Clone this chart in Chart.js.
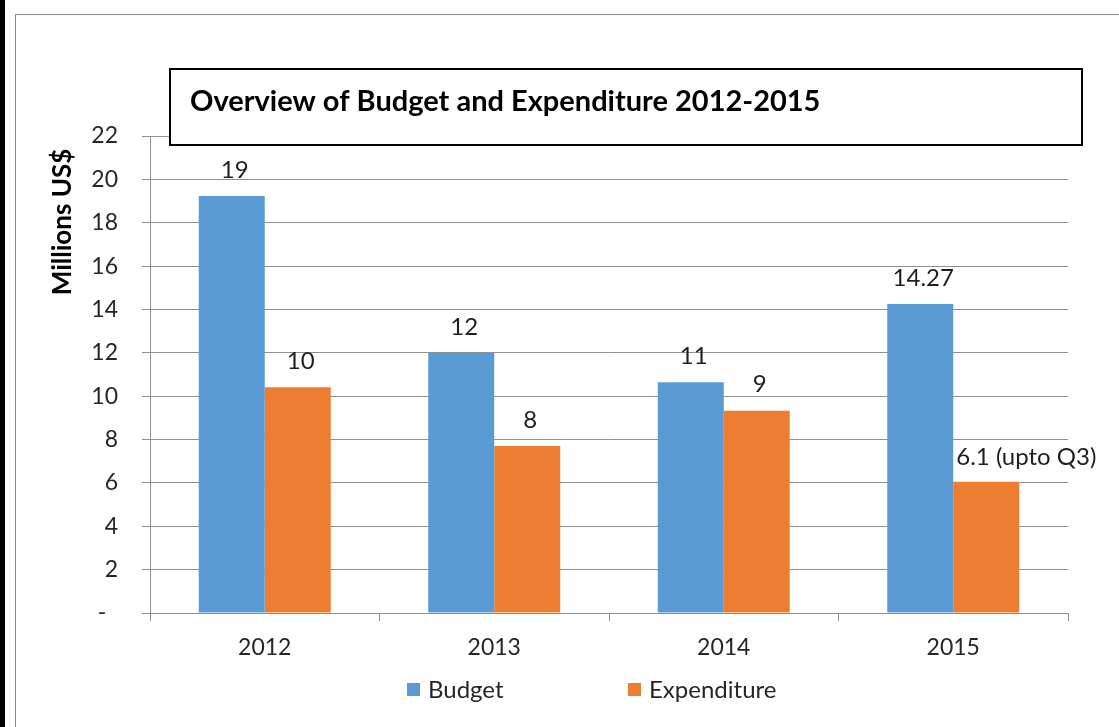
<!DOCTYPE html>
<html>
<head>
<meta charset="utf-8">
<script src="https://cdn.jsdelivr.net/npm/chart.js@4.4.1/dist/chart.umd.min.js"></script>
<style>
    html, body { margin: 0; padding: 0; background: #fff; }
    #wrap { position: relative; width: 1119px; height: 727px; overflow: hidden; }
    #leftBar { position: absolute; left: 0; top: 0; width: 5px; height: 727px; background: #000; }
    #frame { position: absolute; left: 15px; top: 14px; width: 1110px; height: 720px;
             border-top: 1px solid #8a8a8a; border-left: 1px solid #8a8a8a; }
    #chart { position: absolute; left: 0; top: 0; }
</style>
</head>
<body>
<div id="wrap">
    <div id="leftBar"></div>
    <div id="frame"></div>
    <canvas id="chart" width="1119" height="727"></canvas>
</div>
<script>
// 데이터
const years = ['2012', '2013', '2014', '2015'];
const budget = [19.23, 12.0, 10.64, 14.25];
const expenditure = [10.41, 7.7, 9.33, 6.05];
const budgetLabels = ['19', '12', '11', '14.27'];
const expenditureLabels = ['10', '8', '9', '6.1 (upto Q3)'];
const yTicks = { min: 0, max: 22, step: 2 };
const chartTitle = 'Overview of Budget and Expenditure 2012-2015';
const yAxisTitle = 'Millions US$';

const FONT = 'Lato, "Noto Sans", sans-serif';
const BLUE = '#5B9BD5';
const ORANGE = '#ED7D31';
const GRID = '#8f8f8f';

// 막대 위 값 라벨
const valueLabels = {
    id: 'valueLabels',
    afterDatasetsDraw(chart) {
        const ctx = chart.ctx;
        const texts = [budgetLabels, expenditureLabels];
        ctx.save();
        ctx.font = '24px ' + FONT;
        ctx.fillStyle = '#1f1f1f';
        ctx.textBaseline = 'middle';
        chart.data.datasets.forEach((ds, di) => {
            chart.getDatasetMeta(di).data.forEach((bar, i) => {
                const t = texts[di][i];
                const w = ctx.measureText(t).width;
                if (w > bar.width) {
                    ctx.textAlign = 'left';
                    ctx.fillText(t, bar.x - bar.width / 2 + 3, bar.y - 25);
                } else {
                    ctx.textAlign = 'center';
                    ctx.fillText(t, bar.x + 3, bar.y - 26);
                }
            });
        });
        ctx.restore();
    }
};

// 제목 박스 + 범례
const decorations = {
    id: 'decorations',
    afterDraw(chart) {
        const ctx = chart.ctx;
        ctx.save();
        // title box
        ctx.fillStyle = '#fff';
        ctx.fillRect(170, 69, 912, 76);
        ctx.strokeStyle = '#000';
        ctx.lineWidth = 2;
        ctx.strokeRect(170, 69, 912, 76);
        ctx.fillStyle = '#000';
        ctx.font = 'bold 29px ' + FONT;
        ctx.textAlign = 'left';
        ctx.textBaseline = 'middle';
        ctx.fillText(chartTitle, 190, 102);

        // legend
        const items = [[407, 0], [628, 1]];
        ctx.font = '24px ' + FONT;
        items.forEach(([x, di]) => {
            const ds = chart.data.datasets[di];
            ctx.fillStyle = ds.backgroundColor;
            ctx.fillRect(x, 683, 13, 13);
            ctx.fillStyle = '#262626';
            ctx.fillText(ds.label, x + 21, 690);
        });
        ctx.restore();
    }
};

new Chart(document.getElementById('chart'), {
    type: 'bar',
    data: {
        labels: years,
        datasets: [
            { label: 'Budget', data: budget, backgroundColor: BLUE, borderWidth: 0 },
            { label: 'Expenditure', data: expenditure, backgroundColor: ORANGE, borderWidth: 0 }
        ]
    },
    options: {
        responsive: false,
        animation: false,
        devicePixelRatio: 1,
        categoryPercentage: 0.575,
        barPercentage: 1.0,
        layout: { padding: { left: 42, right: 51, top: 136, bottom: 68 } },
        plugins: {
            legend: { display: false },
            tooltip: { enabled: false },
            title: { display: false }
        },
        scales: {
            x: {
                grid: {
                    offset: true,
                    drawOnChartArea: false,
                    drawTicks: true,
                    tickLength: 8,
                    color: GRID
                },
                border: { color: GRID, width: 1 },
                ticks: {
                    color: '#262626',
                    font: { family: FONT, size: 23 },
                    padding: 13
                },
                afterFit: (s) => { s.height = 46; }
            },
            y: {
                min: yTicks.min,
                max: yTicks.max,
                grid: { color: GRID, tickLength: 8 },
                border: { color: GRID, width: 1 },
                ticks: {
                    stepSize: yTicks.step,
                    color: '#262626',
                    font: { family: FONT, size: 23 },
                    padding: 24,
                    callback: (v) => v === 0 ? '-  ' : v
                },
                title: {
                    display: true,
                    text: yAxisTitle + '  ',
                    align: 'end',
                    color: '#000',
                    font: { family: FONT, size: 26, weight: 'bold' },
                    padding: { top: 5, bottom: 0 }
                },
                afterFit: (s) => { s.width = 108; }
            }
        }
    },
    plugins: [valueLabels, decorations]
});
</script>
</body>
</html>
